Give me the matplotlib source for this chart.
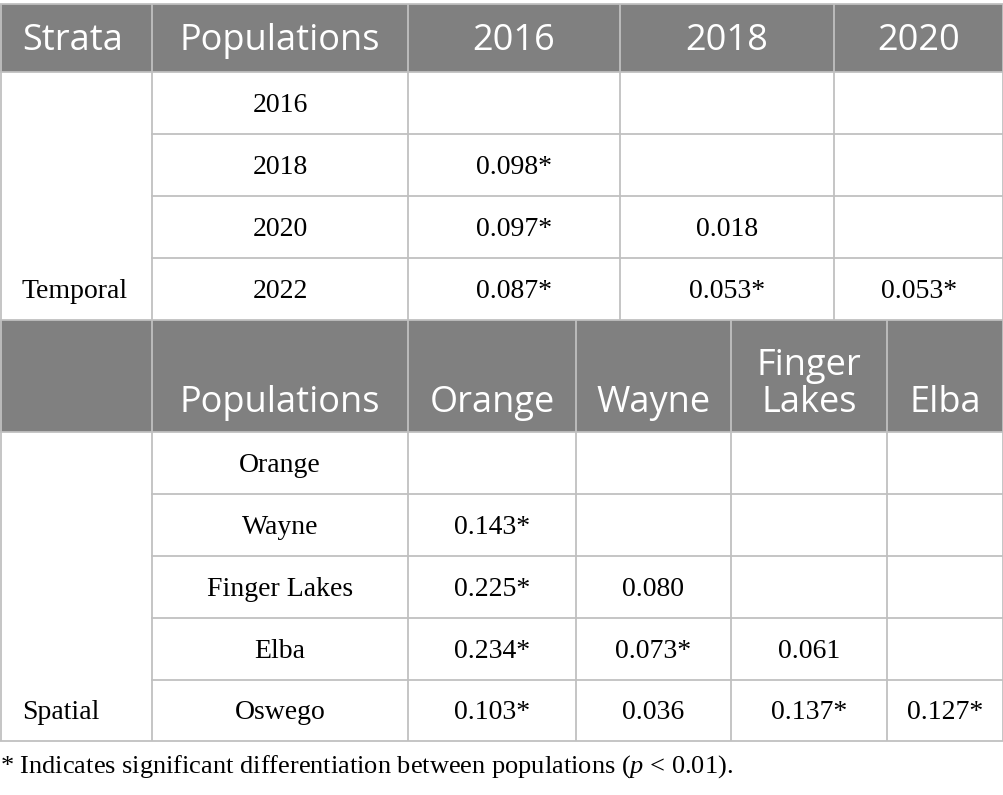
import matplotlib.pyplot as plt
from matplotlib.patches import Rectangle

plt.rcParams["mathtext.fontset"] = "custom"
plt.rcParams["mathtext.it"] = "Liberation Serif:italic"
plt.rcParams["mathtext.rm"] = "Liberation Serif"

# table content
temporal_head = ["Strata", "Populations", "2016", "2018", "2020"]
temporal_pops = ["2016", "2018", "2020", "2022"]
temporal_vals = [
    ["", "", ""],
    ["0.098*", "", ""],
    ["0.097*", "0.018", ""],
    ["0.087*", "0.053*", "0.053*"],
]
spatial_head = ["", "Populations", "Orange", "Wayne", "Finger\nLakes", "Elba"]
spatial_pops = ["Orange", "Wayne", "Finger Lakes", "Elba", "Oswego"]
spatial_vals = [
    ["", "", "", ""],
    ["0.143*", "", "", ""],
    ["0.225*", "0.080", "", ""],
    ["0.234*", "0.073*", "0.061", ""],
    ["0.103*", "0.036", "0.137*", "0.127*"],
]
strata = ["Temporal", "Spatial"]
footnote = "* Indicates significant differentiation between populations ($\\it{p}$ < 0.01)."

# layout (pixels)
W, H = 1004, 795
cols_t = [0, 152, 408, 620, 834, 1004]
cols_s = [0, 152, 408, 576, 731, 887, 1004]
rows_t = [72, 134, 196, 258, 320]
rows_s = [432, 494, 556, 618, 680, 741]
head_t = (4, 72)
head_s = (320, 432)

head_col = "#808080"
line_col = "#c0c0c0"
hfont = "Open Sans"
bfont = "Liberation Serif"

fig = plt.figure(figsize=(W / 100, H / 100), dpi=100)
ax = fig.add_axes([0, 0, 1, 1])
ax.set_xlim(0, W)
ax.set_ylim(H, 0)
ax.axis("off")

# header backgrounds
for top, bot in (head_t, head_s):
    ax.add_patch(Rectangle((0, top), W, bot - top, facecolor=head_col, edgecolor="none"))

# header texts
for i, t in enumerate(temporal_head):
    yc = (head_t[0] + head_t[1]) / 2 + 3
    if i == 0:
        ax.text(22, yc, t, color="white", fontsize=26, family=hfont, ha="left", va="center")
    else:
        ax.text((cols_t[i] + cols_t[i + 1]) / 2, yc, t, color="white", fontsize=26,
                family=hfont, ha="center", va="center")
for i, t in enumerate(spatial_head):
    ax.text((cols_s[i] + cols_s[i + 1]) / 2, head_s[1] - 20, t, color="white", fontsize=26,
            family=hfont, ha="center", va="baseline", linespacing=1.05)

# body texts
def body(cols, rows, pops, vals, label):
    for r, p in enumerate(pops):
        yc = (rows[r] + rows[r + 1]) / 2 + 2
        ax.text((cols[1] + cols[2]) / 2, yc, p, fontsize=20, family=bfont, ha="center", va="center")
        for c, v in enumerate(vals[r]):
            ax.text((cols[c + 2] + cols[c + 3]) / 2, yc, v, fontsize=20, family=bfont,
                    ha="center", va="center")
    yc = (rows[-2] + rows[-1]) / 2 + 2
    ax.text(22, yc, label, fontsize=20, family=bfont, ha="left", va="center")

body(cols_t, rows_t, temporal_pops, temporal_vals, strata[0])
body(cols_s, rows_s, spatial_pops, spatial_vals, strata[1])

# grid lines
lw = 1.3
def grid(cols, rows, top):
    for x in cols:
        ax.plot([x, x], [top, rows[-1]], color=line_col, lw=lw, solid_capstyle="butt")
    for y in rows[1:-1]:
        ax.plot([cols[1], W], [y, y], color=line_col, lw=lw)
    for y in (rows[0], rows[-1]):
        ax.plot([0, W], [y, y], color=line_col, lw=lw)

grid([1] + cols_t[1:-1] + [W - 1], rows_t, head_t[0])
grid([1] + cols_s[1:-1] + [W - 1], rows_s, head_s[0])
ax.plot([0, W], [head_t[0], head_t[0]], color=line_col, lw=lw)

# footnote
ax.text(0, 767, footnote, fontsize=19, family=bfont, ha="left", va="center")

fig.savefig("out.png", dpi=100)
